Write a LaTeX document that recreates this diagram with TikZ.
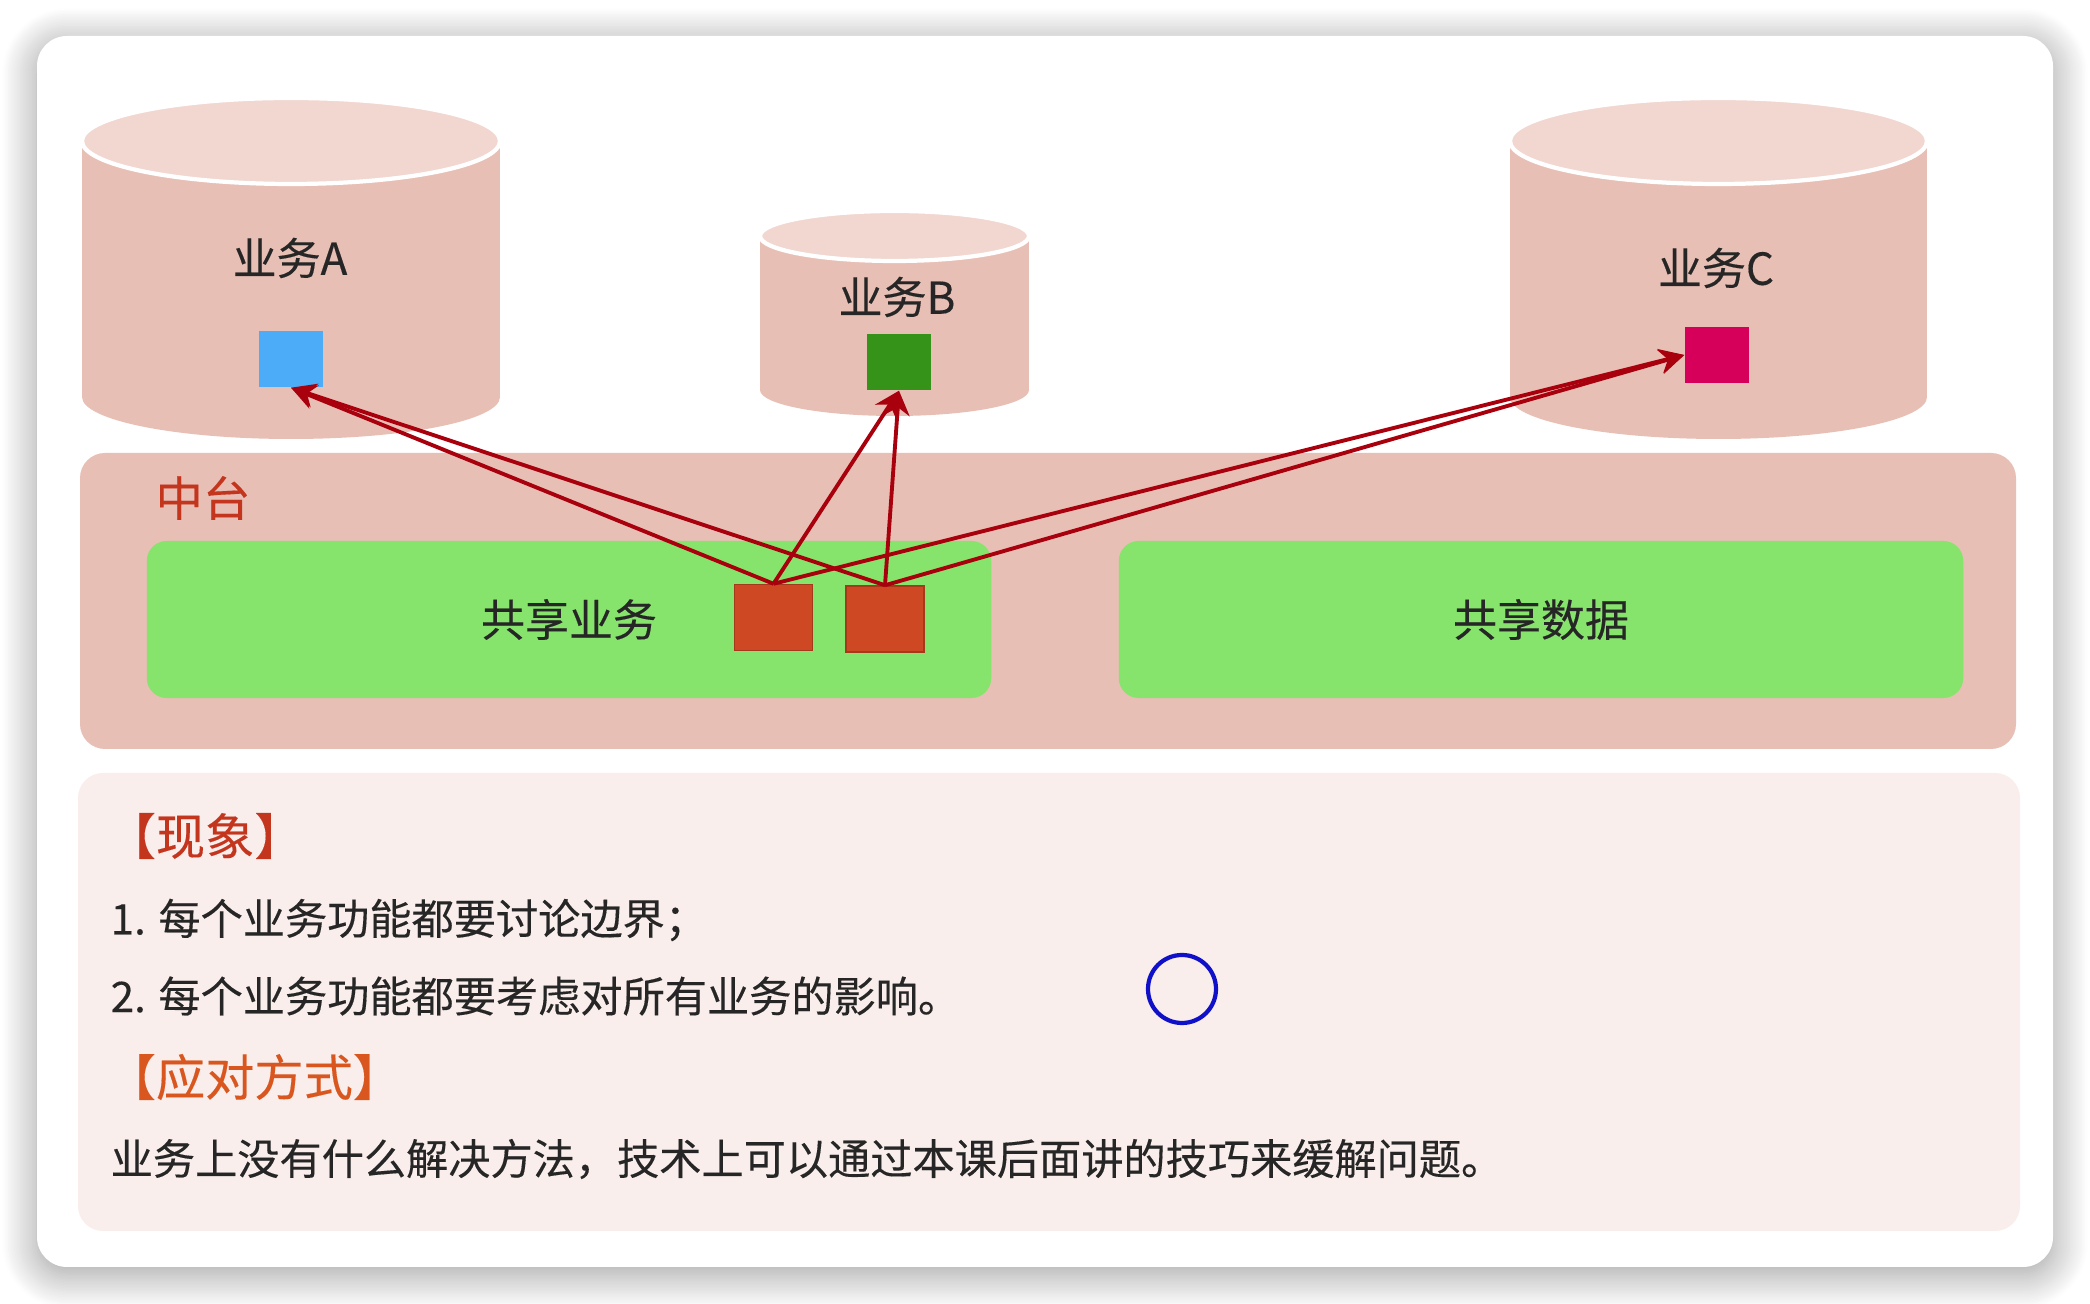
\documentclass[tikz,border=0pt]{standalone}
\usepackage{fontspec}
\newfontfamily\cjk[FakeBold=0.3]{Noto Sans CJK SC}
\usetikzlibrary{arrows.meta}
\usetikzlibrary{shadows.blur}

\definecolor{cylside}{HTML}{E8BFB5}
\definecolor{cyltop}{HTML}{F2D6D0}
\definecolor{sharegreen}{HTML}{86E36B}
\definecolor{notebg}{HTML}{F9EEEB}
\definecolor{arrowred}{HTML}{A8000C}
\definecolor{titlered}{HTML}{C4351E}
\definecolor{titleorange}{HTML}{D9561F}
\definecolor{svcorange}{HTML}{CD4823}
\definecolor{bizblue}{HTML}{4DACF7}
\definecolor{bizgreen}{HTML}{36931A}
\definecolor{bizpink}{HTML}{D6005A}
\definecolor{ringblue}{HTML}{1010C8}

\begin{document}
\begin{tikzpicture}[%
  x=0.01cm, y=-0.01cm,
  >={Stealth[length=7pt,width=7pt]},
  bizlabel/.style={font=\cjk\fontsize{12.5pt}{14pt}\selectfont, text=black!85},
  notetext/.style={font=\cjk\fontsize{12pt}{14pt}\selectfont, text=black!85,
    anchor=west, inner sep=0pt},
  notehead/.style={font=\cjk\fontsize{14pt}{16pt}\selectfont,
    anchor=west, inner sep=0pt},
  sharebox/.style={fill=sharegreen, rounded corners=0.2cm,
    minimum width=8.44cm, minimum height=1.57cm,
    font=\cjk\fontsize{12.5pt}{14pt}\selectfont, text=black!85},
  bizbox/.style={minimum width=0.64cm, minimum height=0.56cm, inner sep=0pt},
  svcbox/.style={fill=svcorange, draw=svcorange!80!black, line width=0.4pt,
    minimum width=0.78cm, minimum height=0.66cm, inner sep=0pt},
  link/.style={->, draw=arrowred, line width=1.1pt},
]

  \useasboundingbox (0,0) rectangle (2090,1304);

  \fill[white, rounded corners=0.3cm,
    blur shadow={shadow xshift=0pt, shadow yshift=-2pt,
      shadow blur radius=10pt, shadow blur steps=24, shadow opacity=40}]
    (37,36) rectangle (2053,1267);

  \fill[cylside] (291,397) ellipse [x radius=209, y radius=42];
  \fill[cylside] (82,141) rectangle (500,397);
  \filldraw[fill=cyltop, draw=white, line width=1.2pt]
    (291,141) ellipse [x radius=209, y radius=43];

  \fill[cylside] (894.5,390) ellipse [x radius=134.5, y radius=26];
  \fill[cylside] (760,236) rectangle (1029,390);
  \filldraw[fill=cyltop, draw=white, line width=1.2pt]
    (894.5,236) ellipse [x radius=134.5, y radius=25];

  \fill[cylside] (1718.5,397) ellipse [x radius=208.5, y radius=42];
  \fill[cylside] (1510,141) rectangle (1927,397);
  \filldraw[fill=cyltop, draw=white, line width=1.2pt]
    (1718.5,141) ellipse [x radius=208.5, y radius=43];

  \node[bizlabel] (labA) at (290,258) {业务A};
  \node[bizlabel] (labB) at (897,297) {业务B};
  \node[bizlabel] (labC) at (1716,268) {业务C};

  \node[bizbox, fill=bizblue] (bizA) at (291,359) {};
  \node[bizbox, fill=bizgreen] (bizB) at (899,362) {};
  \node[bizbox, fill=bizpink] (bizC) at (1717,355) {};

  \fill[cylside, rounded corners=0.25cm] (80,453) rectangle (2016,749);
  \node[font=\cjk\fontsize{13.5pt}{16pt}\selectfont, text=titlered]
    (midlabel) at (203,498) {中台};

  \node[sharebox] (shareSvc) at (569,619.5) {共享业务};
  \node[sharebox] (shareData) at (1541,619.5) {共享数据};

  \node[svcbox] (svc1) at (773.5,617.5) {};
  \node[svcbox] (svc2) at (885,619) {};

  \draw[link] (svc1.north) -- (bizA.south);
  \draw[link] (svc2.north) -- (bizA.south);
  \draw[link] (svc1.north) -- (bizB.south);
  \draw[link] (svc2.north) -- (bizB.south);
  \draw[link] (svc1.north) -- (bizC.west);
  \draw[link] (svc2.north) -- (bizC.west);

  \fill[notebg, rounded corners=0.25cm] (78,773) rectangle (2020,1231);

  \node[notehead, text=titlered] (headPhen) at (106,836) {【现象】};
  \node[notetext] (lineOne) at (110,920) {1. 每个业务功能都要讨论边界；};
  \node[notetext] (lineTwo) at (110,996) {2. 每个业务功能都要考虑对所有业务的影响。};
  \node[notehead, text=titleorange] (headCope) at (106,1077) {【应对方式】};
  \node[notetext] (lineThree) at (110,1159)
    {业务上没有什么解决方法，技术上可以通过本课后面讲的技巧来缓解问题。};

  \draw[ringblue, line width=1.2pt] (1182,989) circle [radius=34];

\end{tikzpicture}
\end{document}
